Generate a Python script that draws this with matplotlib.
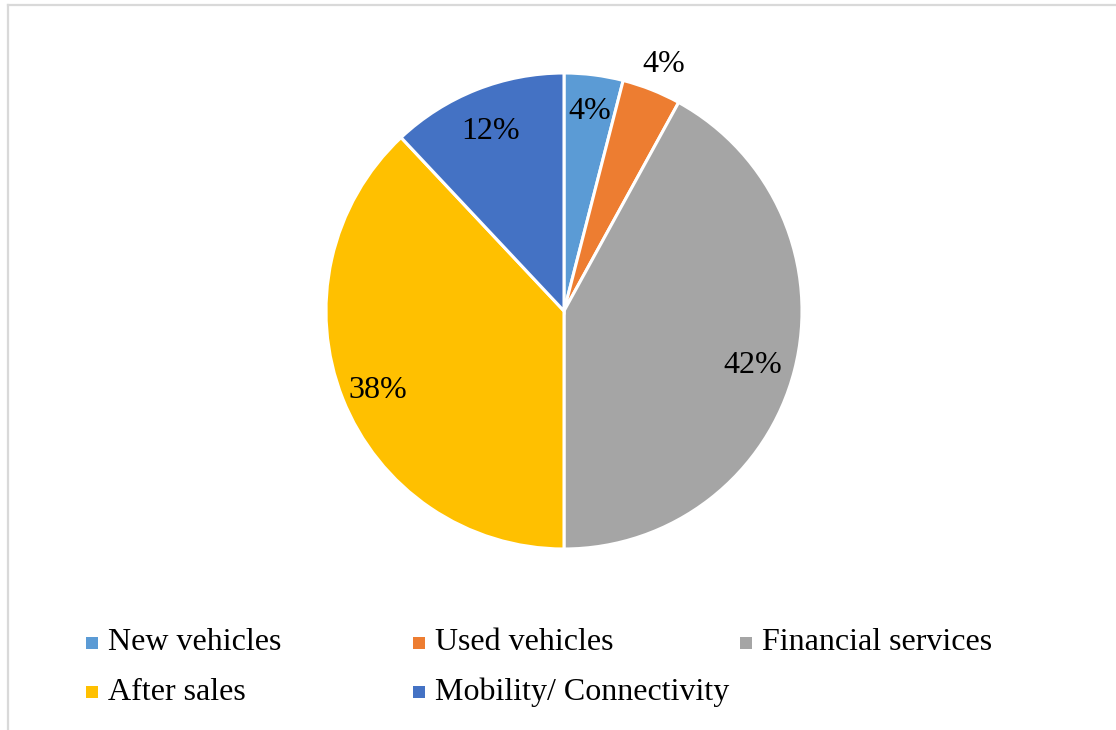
import matplotlib.pyplot as plt
import numpy as np
from matplotlib.lines import Line2D
from matplotlib.patches import Rectangle
from matplotlib.transforms import offset_copy

# Revenue split by business line
categories = ["New vehicles", "Used vehicles", "Financial services", "After sales", "Mobility/ Connectivity"]
shares = [4, 4, 42, 38, 12]
colors = ["#5B9BD5", "#ED7D31", "#A5A5A5", "#FFC000", "#4472C4"]
label_dist = [0.87, 1.14, 0.82, 0.84, 0.84]

W, H = 1116, 730
plt.rcParams['font.family'] = ['Liberation Serif', 'DejaVu Serif']

fig = plt.figure(figsize=(W / 100, H / 100), dpi=100)

# pie: centre (564, 311) px, radius 238 px
cx, cy, r = 564, 311, 238
ax = fig.add_axes([(cx - r) / W, (H - cy - r) / H, 2 * r / W, 2 * r / H])
wedges, _ = ax.pie(shares, colors=colors, startangle=90, counterclock=False,
                   wedgeprops=dict(edgecolor="white", linewidth=2.2))
ax.set_xlim(-1, 1)
ax.set_ylim(-1, 1)
ax.set_aspect("equal")
ax.axis("off")

# data labels, nudged a little below the mid-angle point
lbl_tf = offset_copy(ax.transData, fig=fig, x=0, y=-6, units="dots")
for w, val, d in zip(wedges, shares, label_dist):
    ang = np.deg2rad((w.theta1 + w.theta2) / 2)
    ax.text(d * np.cos(ang), d * np.sin(ang), f"{val}%", ha="center", va="center",
            fontsize=23, color="black", transform=lbl_tf)

# legend laid out in a fixed grid
col_x = [92, 419, 746]
row_y = [643, 692]
for i, (name, c) in enumerate(zip(categories, colors)):
    row, col = divmod(i, 3)
    x, y = col_x[col], row_y[row]
    fig.patches.append(Rectangle(((x - 6) / W, (H - y - 6) / H), 12 / W, 12 / H,
                                 transform=fig.transFigure, facecolor=c, edgecolor="none"))
    fig.text((x + 16) / W, (H - y) / H, name, ha="left", va="center", fontsize=23)

# chart area border
fig.add_artist(Line2D([8 / W, 1], [(H - 5) / H] * 2, color="#d9d9d9", linewidth=1.6))
fig.add_artist(Line2D([8 / W] * 2, [0, (H - 5) / H], color="#d9d9d9", linewidth=1.6))

fig.savefig("out.png", dpi=100)
